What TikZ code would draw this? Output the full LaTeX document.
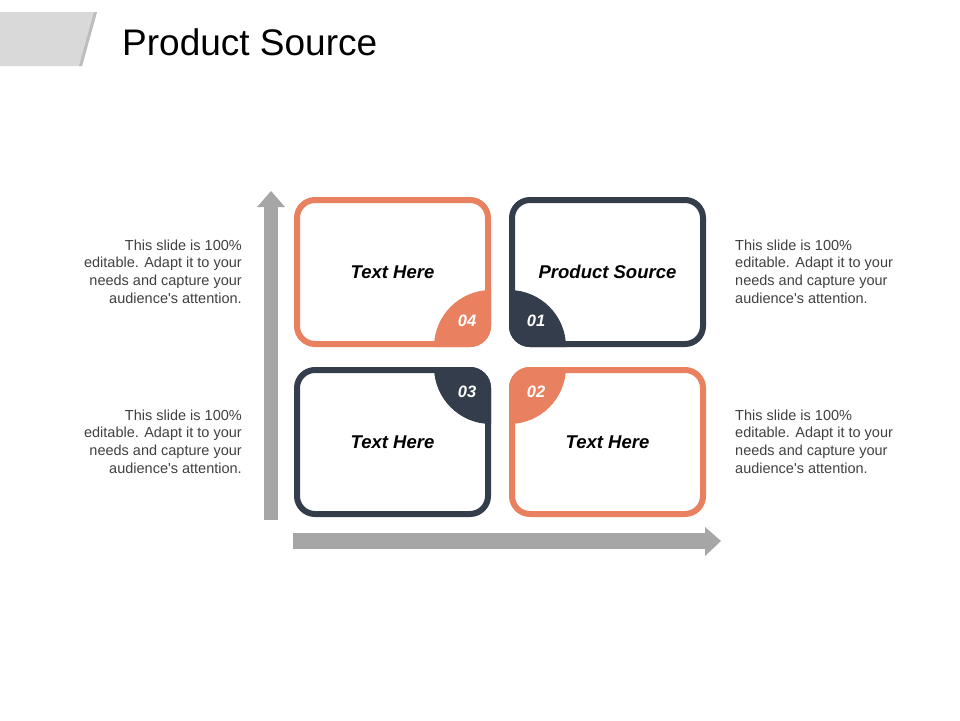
\documentclass[tikz,border=0pt]{standalone}
\usepackage{fontspec}
\setmainfont{Liberation Sans}

\definecolor{salmon}{HTML}{E9805F}
\definecolor{slate}{HTML}{343D4B}
\definecolor{arrowgray}{HTML}{A6A6A6}
\definecolor{tabgray}{HTML}{D9D9D9}
\definecolor{tabedge}{HTML}{BDBDBD}
\definecolor{notegray}{HTML}{404040}

\tikzset{
	tile/.style={draw=#1, line width=6pt, rounded corners=18pt, minimum width=191pt, minimum height=144pt, inner sep=0pt, font=\fontsize{18.5}{22}\selectfont\bfseries\itshape},
	badge/.style={text=white, inner sep=0pt, font=\fontsize{16.5}{19}\selectfont\bfseries\itshape},
	note/.style={text=notegray, inner sep=0pt, align=#1, font=\fontsize{14.5}{17.7}\selectfont},
}

\begin{document}
\begin{tikzpicture}[x=1pt, y=-1pt]
		\useasboundingbox (0,0) rectangle (960,720);
		% title tab
		\fill[tabgray] (0,12) -- (97,12) -- (82,66) -- (0,66) -- cycle;
		\fill[tabedge] (94,12) -- (97,12) -- (82,66) -- (79,66) -- cycle;
		\node[anchor=base west, inner sep=0pt, font=\fontsize{37}{44}\selectfont] (title) at (122,55) {Product Source};
		% axes
		\fill[arrowgray] (264,520) rectangle (278,207);
		\fill[arrowgray] (257,207) -- (285,207) -- (271,191) -- cycle;
		\fill[arrowgray] (293,533) rectangle (705,549);
		\fill[arrowgray] (705,527) -- (705,556) -- (721,541) -- cycle;
		% tiles
		\node[tile=salmon] (tl) at (392.5,272) {Text Here};
		\node[tile=slate] (tr) at (607.5,272) {Product Source};
		\node[tile=slate] (bl) at (392.5,442) {Text Here};
		\node[tile=salmon] (br) at (607.5,442) {Text Here};
		% corner badges (anchors sit on the outer edge of the border)
		\begin{scope}
			\clip[rounded corners=21pt] (tl.north west) rectangle (tl.south east);
			\fill[salmon] (tl.south east) circle (57pt);
		\end{scope}
		\begin{scope}
			\clip[rounded corners=21pt] (tr.north west) rectangle (tr.south east);
			\fill[slate] (tr.south west) circle (57pt);
		\end{scope}
		\begin{scope}
			\clip[rounded corners=21pt] (bl.north west) rectangle (bl.south east);
			\fill[slate] (bl.north east) circle (57pt);
		\end{scope}
		\begin{scope}
			\clip[rounded corners=21pt] (br.north west) rectangle (br.south east);
			\fill[salmon] (br.north west) circle (57pt);
		\end{scope}
		\node[badge] (n4) at ([shift={(-24,-26)}]tl.south east) {04};
		\node[badge] (n1) at ([shift={(27,-26)}]tr.south west) {01};
		\node[badge] (n3) at ([shift={(-24,25)}]bl.north east) {03};
		\node[badge] (n2) at ([shift={(27,25)}]br.north west) {02};
		% side notes
		\node[note=right, anchor=north east] (ntl) at (242,239.5) {This slide is 100\%\\editable. Adapt it to your\\needs and capture your\\audience\textquotesingle s attention.};
		\node[note=right, anchor=north east] (nbl) at (242,409.5) {This slide is 100\%\\editable. Adapt it to your\\needs and capture your\\audience\textquotesingle s attention.};
		\node[note=left, anchor=north west] (ntr) at (735,239.5) {This slide is 100\%\\editable. Adapt it to your\\needs and capture your\\audience\textquotesingle s attention.};
		\node[note=left, anchor=north west] (nbr) at (735,409.5) {This slide is 100\%\\editable. Adapt it to your\\needs and capture your\\audience\textquotesingle s attention.};
	\end{tikzpicture}
\end{document}
